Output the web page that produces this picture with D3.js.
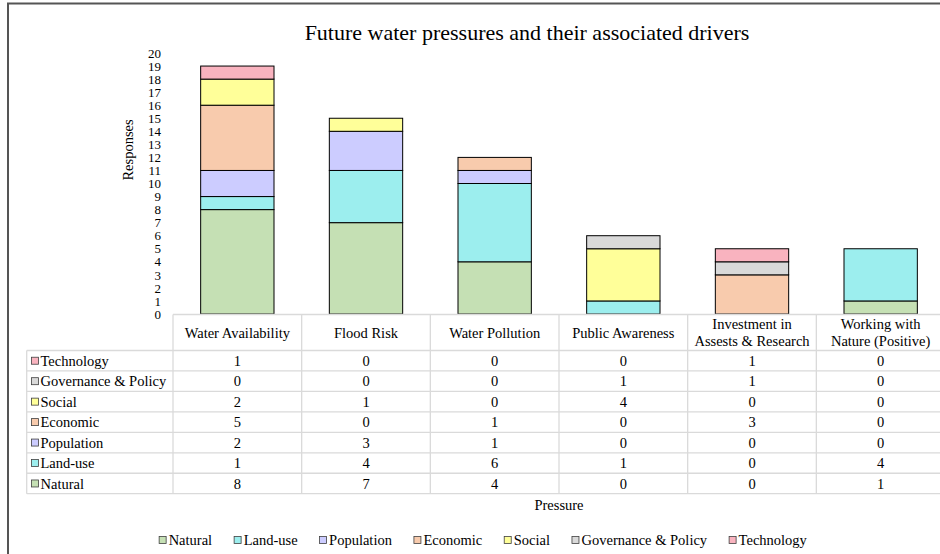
<!DOCTYPE html>
<html>
<head>
<meta charset="utf-8">
<script src="https://cdn.jsdelivr.net/npm/d3@7"></script>
<style>
  html, body { margin: 0; padding: 0; background: #fff; }
  svg { display: block; }
</style>
</head>
<body>
<svg id="chart" width="940" height="554"></svg>
<script>
// Pressures (x categories) and their header labels as drawn in the table
const pressures = ["Water Availability", "Flood Risk", "Water Pollution", "Public Awareness",
  "Investment in Assests & Research", "Working with Nature (Positive)"];
const pressureHeaders = [["Water Availability"], ["Flood Risk"], ["Water Pollution"], ["Public Awareness"],
  ["Investment in", "Assests & Research"], ["Working with", "Nature (Positive)"]];

// Drivers, in stacking order (bottom to top)
const drivers = ["Natural", "Land-use", "Population", "Economic", "Social", "Governance & Policy", "Technology"];
const driverColors = ["#C5E0B4", "#9CEEEE", "#CCCCFF", "#F8CBAD", "#FFFF99", "#D9D9D9", "#F9B3BF"];

// Responses per driver, one value per pressure
const natural     = [8, 7, 4, 0, 0, 1];
const landUse     = [1, 4, 6, 1, 0, 4];
const population  = [2, 3, 1, 0, 0, 0];
const economic    = [5, 0, 1, 0, 3, 0];
const social      = [2, 1, 0, 4, 0, 0];
const governance  = [0, 0, 0, 1, 1, 0];
const technology  = [1, 0, 0, 0, 1, 0];

const yTicks = d3.range(0, 21);

const seriesValues = [natural, landUse, population, economic, social, governance, technology];
const rows = pressures.map((p, i) => {
  const r = { pressure: p };
  drivers.forEach((d, j) => { r[d] = seriesValues[j][i]; });
  return r;
});

const SERIF = "'Liberation Serif', 'Times New Roman', serif";
const svg = d3.select("#chart").style("font-family", SERIF);
const font = 14.5;

// Outer chart frame
svg.append("rect")
  .attr("x", 8).attr("y", 3.5).attr("width", 1000).attr("height", 600)
  .attr("fill", "none").attr("stroke", "#555").attr("stroke-width", 2);

// Scales
const plotLeft = 173, plotRight = 945;
const xCol = d3.scaleBand().domain(pressures).range([plotLeft, plotRight]).padding(0);
const xBar = d3.scaleBand().domain(pressures).range([plotLeft, plotRight])
  .paddingInner(0.43).paddingOuter(0.215);
const y = d3.scaleLinear().domain([0, 20]).range([314, 53]);
const color = d3.scaleOrdinal().domain(drivers).range(driverColors);

// Title
svg.append("text")
  .attr("x", 527).attr("y", 40)
  .attr("text-anchor", "middle")
  .style("font-size", "22px")
  .text("Future water pressures and their associated drivers");

// Y axis (labels only)
const yAxis = d3.axisLeft(y).tickValues(yTicks).tickSize(0).tickPadding(4).tickFormat(d3.format("d"));
const gy = svg.append("g").attr("transform", "translate(165,0)").call(yAxis);
gy.select(".domain").remove();
gy.attr("font-family", null).attr("font-size", null);
gy.selectAll("text").style("font-size", "13px").attr("fill", "#000");

svg.append("text")
  .attr("transform", "translate(128,150) rotate(-90)")
  .attr("text-anchor", "middle")
  .attr("dy", "0.35em")
  .style("font-size", font + "px")
  .text("Responses");

// Stacked bars
const stacked = d3.stack().keys(drivers)(rows);
svg.append("g").selectAll("g")
  .data(stacked)
  .join("g")
  .attr("fill", d => color(d.key))
  .selectAll("rect")
  .data(d => d.filter(s => s[1] - s[0] > 0))
  .join("rect")
  .attr("x", d => xBar(d.data.pressure))
  .attr("width", xBar.bandwidth())
  .attr("y", d => y(d[1]))
  .attr("height", d => y(d[0]) - y(d[1]))
  .attr("stroke", "#000")
  .attr("stroke-width", 1);

// Data table beneath the plot
const headerTop = 314.5, headerH = 36;
const tableRows = drivers.slice().reverse();
const labelLeft = 26.7;
const rowY = d3.scaleBand().domain(tableRows).range([headerTop + headerH, 493.7]);
const grid = svg.append("g").attr("stroke", "#DADADA").attr("stroke-width", 1.3);

// horizontal rules
grid.append("line").attr("x1", plotLeft).attr("x2", plotRight).attr("y1", headerTop).attr("y2", headerTop);
tableRows.forEach(r => {
  grid.append("line").attr("x1", labelLeft).attr("x2", plotRight)
    .attr("y1", rowY(r)).attr("y2", rowY(r));
});
grid.append("line").attr("x1", labelLeft).attr("x2", plotRight)
  .attr("y1", rowY.range()[1]).attr("y2", rowY.range()[1]);
// vertical rules
grid.append("line").attr("x1", labelLeft).attr("x2", labelLeft)
  .attr("y1", rowY.range()[0]).attr("y2", rowY.range()[1]);
pressures.forEach(p => {
  grid.append("line").attr("x1", xCol(p)).attr("x2", xCol(p))
    .attr("y1", headerTop).attr("y2", rowY.range()[1]);
});
grid.append("line").attr("x1", plotRight).attr("x2", plotRight)
  .attr("y1", headerTop).attr("y2", rowY.range()[1]);

// column headers
pressures.forEach((p, i) => {
  const lines = pressureHeaders[i];
  const cx = xCol(p) + xCol.bandwidth() / 2;
  const cy = headerTop + headerH / 2;
  const t = svg.append("text").attr("text-anchor", "middle").style("font-size", font + "px");
  lines.forEach((ln, k) => {
    t.append("tspan").attr("x", cx)
      .attr("y", cy + (k - (lines.length - 1) / 2) * 16.5)
      .attr("dy", "0.35em")
      .text(ln);
  });
});

// row labels with colour keys
tableRows.forEach(r => {
  const cy = rowY(r) + rowY.bandwidth() / 2;
  svg.append("rect").attr("x", 31.5).attr("y", cy - 3.5).attr("width", 7).attr("height", 7)
    .attr("fill", color(r)).attr("stroke", "#404040").attr("stroke-width", 0.8);
  svg.append("text").attr("x", 40.5).attr("y", cy).attr("dy", "0.35em")
    .style("font-size", font + "px").text(r);
});

// cell values
tableRows.forEach(r => {
  const cy = rowY(r) + rowY.bandwidth() / 2;
  rows.forEach(row => {
    svg.append("text")
      .attr("x", xCol(row.pressure) + xCol.bandwidth() / 2)
      .attr("y", cy).attr("dy", "0.35em")
      .attr("text-anchor", "middle")
      .style("font-size", font + "px")
      .text(row[r]);
  });
});

// X axis title
svg.append("text")
  .attr("x", (plotLeft + plotRight) / 2).attr("y", 505).attr("dy", "0.35em")
  .attr("text-anchor", "middle").style("font-size", font + "px")
  .text("Pressure");

// Legend
const legend = svg.append("g");
let lx = 0;
drivers.forEach(d => {
  const g = legend.append("g").attr("transform", `translate(${lx},0)`);
  g.append("rect").attr("x", 0).attr("y", -3.5).attr("width", 7).attr("height", 7)
    .attr("fill", color(d)).attr("stroke", "#404040").attr("stroke-width", 0.8);
  const t = g.append("text").attr("x", 9.5).attr("y", 0).attr("dy", "0.35em")
    .style("font-size", font + "px").style("font-family", SERIF).text(d);
  const w = t.node().getComputedTextLength();
  lx += 9.5 + w + 22;
});
const legendWidth = lx - 22;
legend.attr("transform", `translate(${483 - legendWidth / 2},540)`);

// every label uses the serif face
svg.selectAll("text").style("font-family", SERIF).attr("fill", "#000");
</script>
</body>
</html>
